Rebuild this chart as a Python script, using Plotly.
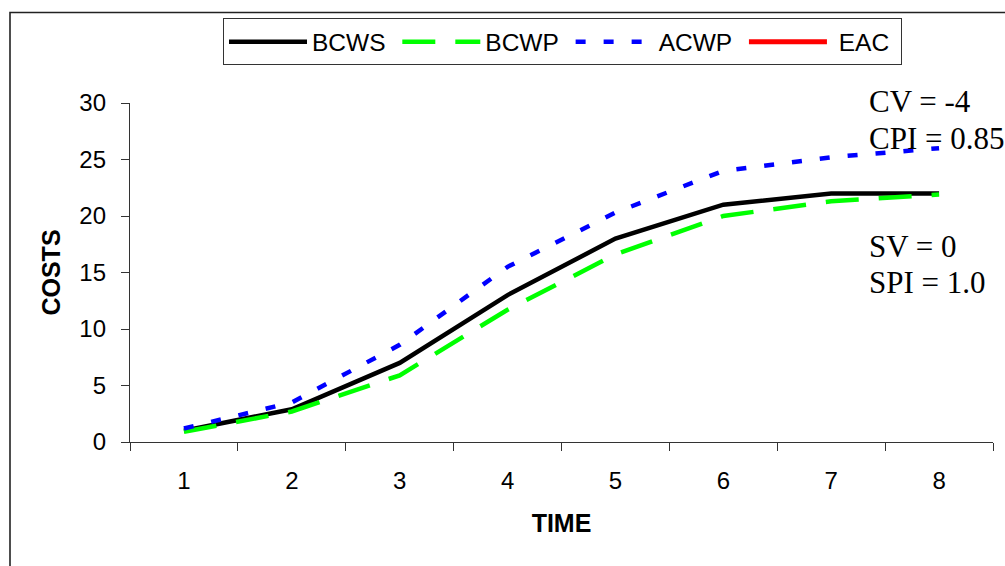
import plotly.graph_objects as go

time_labels = ["1", "2", "3", "4", "5", "6", "7", "8"]
bcws = [1, 2.9, 7, 13, 18, 21, 22, 22]
bcwp = [0.9, 2.7, 5.9, 11.7, 16.6, 20, 21.3, 21.9]
acwp = [1.2, 3.5, 8.6, 15.5, 20.3, 24, 25.2, 26]
eac = [None] * 8

series_names = ["BCWS", "BCWP", "ACWP", "EAC"]

cv_text = "CV = -4"
cpi_text = "CPI = 0.85"
sv_text = "SV = 0"
spi_text = "SPI = 1.0"

pad = "\u00a0"

fig = go.Figure()
fig.add_trace(go.Scatter(x=time_labels, y=bcws, name=series_names[0] + pad, mode="lines",
                         line=dict(color="black", width=4.5)))
fig.add_trace(go.Scatter(x=time_labels, y=bcwp, name=series_names[1] + pad, mode="lines",
                         line=dict(color="#00FF00", width=4.5, dash="33px,20px")))
fig.add_trace(go.Scatter(x=time_labels, y=acwp, name=series_names[2] + pad, mode="lines",
                         line=dict(color="#0000FF", width=4.5, dash="10px,18px")))
fig.add_trace(go.Scatter(x=time_labels, y=eac, name=pad + series_names[3] + pad, mode="lines",
                         line=dict(color="#FF0000", width=5)))

L, R, T, B = 130, 12, 102.7, 123.7
W = 1005 - L - R
H = 566 - T - B


def px_x(x):
    return (x - L) / W


def px_y(y):
    return (566 - B - y) / H


ann_font = dict(family="Liberation Serif, Times New Roman, serif", size=31, color="black")
annotations = []
for txt, yy in [(cv_text, 101.3), (cpi_text, 137.9), (sv_text, 246.3), (spi_text, 282.9)]:
    annotations.append(dict(text=txt, xref="paper", yref="paper", x=px_x(867), y=px_y(yy),
                            xanchor="left", yanchor="middle", showarrow=False, font=ann_font))

fig.update_layout(
    width=1005, height=566,
    margin=dict(l=L, r=R, t=T, b=B),
    paper_bgcolor="white", plot_bgcolor="white",
    font=dict(family="Liberation Sans, Arial, sans-serif", color="black"),
    showlegend=True,
    legend=dict(orientation="h", x=px_x(223), y=px_y(18), xanchor="left", yanchor="top",
                bordercolor="#333333", borderwidth=1, bgcolor="white",
                font=dict(size=24.5, color="black"), itemwidth=78,
                tracegroupgap=0),
    annotations=annotations,
    shapes=[dict(type="rect", xref="paper", yref="paper",
                 x0=px_x(10), x1=px_x(1030), y0=px_y(600), y1=px_y(12),
                 line=dict(color="#222222", width=1.6), layer="below")],
)

fig.update_xaxes(type="category", tickson="boundaries", range=[-0.5, 7.5],
                 ticks="outside", ticklen=8,
                 tickcolor="#333333", showline=True, linecolor="#333333", linewidth=1.3,
                 showgrid=False, zeroline=False, tickfont=dict(size=24),
                 ticklabelstandoff=17,
                 title=dict(text="<b>TIME</b>", font=dict(size=25), standoff=21))
fig.update_yaxes(range=[0, 30], dtick=5, ticks="outside", ticklen=8,
                 tickcolor="#333333", showline=True, linecolor="#333333", linewidth=1.3,
                 showgrid=False, zeroline=False, tickfont=dict(size=24),
                 ticklabelstandoff=10,
                 title=dict(text="<b>COSTS</b>", font=dict(size=25), standoff=11))

fig.write_html("out.html")
